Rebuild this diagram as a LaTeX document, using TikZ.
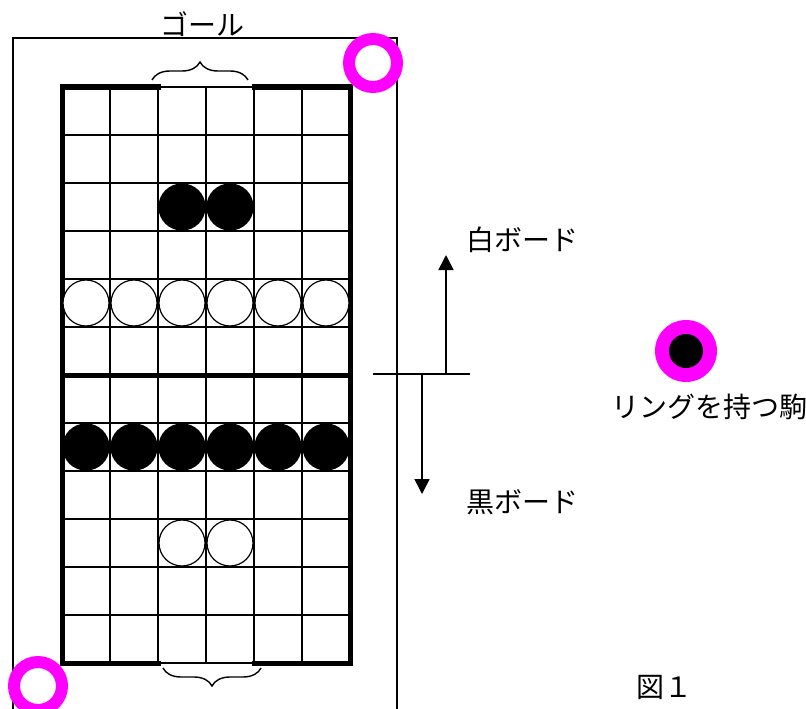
\documentclass[tikz,border=0pt]{standalone}
\usepackage{fontspec}
\newfontfamily\jp{Noto Sans CJK JP}
\usetikzlibrary{arrows.meta,decorations.pathreplacing}
\definecolor{ringpink}{RGB}{255,0,255}
\tikzset{
  thin grid/.style={line width=1.8pt},
  border/.style={line width=5pt, line cap=rect},
  frame/.style={line width=1.4pt},
  blackpiece/.style={circle, fill=black, draw=black, line width=1.2pt, minimum size=46pt, inner sep=0pt},
  whitepiece/.style={circle, fill=white, draw=black, line width=1.2pt, minimum size=46pt, inner sep=0pt},
  ring/.style={circle, draw=ringpink, line width=12pt, minimum size=48pt, inner sep=0pt},
  label/.style={font=\jp\fontsize{28}{32}\selectfont, inner sep=0pt},
  goalbrace/.style={decorate, decoration={brace, amplitude=18pt}, line width=1.4pt},
  move/.style={line width=1.6pt, -{Triangle[length=15pt,width=15pt]}},
}
\begin{document}
\begin{tikzpicture}[x=1pt,y=-1pt]
  \useasboundingbox (0,0) rectangle (806,709);
  % outer frame, open at the bottom edge
  \begin{scope}
    \clip (0,0) rectangle (806,709);
    \draw[frame] (13,720) -- (13,38) -- (397,38) -- (397,720);
  \end{scope}
  % board grid: 6 columns x 12 rows of 48pt squares
  \foreach \i in {1,...,5} \draw[thin grid] (62+48*\i,87) -- (62+48*\i,663);
  \foreach \j in {1,...,11} \draw[thin grid] (62,87+48*\j) -- (350,87+48*\j);
  \draw[thin grid] (158,87) -- (254,87);
  \draw[thin grid] (158,663) -- (254,663);
  % heavy edges, leaving the two goal squares open at each end
  \draw[border] (158,87) -- (62,87) -- (62,663) -- (158,663);
  \draw[border] (254,87) -- (350,87) -- (350,663) -- (254,663);
  \draw[border] (62,375) -- (350,375);
  % pieces
  \node[blackpiece] (b1) at (182,207) {};
  \node[blackpiece] (b2) at (230,207) {};
  \foreach \i in {0,...,5} {
    \node[whitepiece] (w\i) at (86+48*\i,303) {};
    \node[blackpiece] (k\i) at (86+48*\i,447) {};
  }
  \node[whitepiece] (w6) at (182,543) {};
  \node[whitepiece] (w7) at (230,543) {};
  % rings on the corners
  \node[ring] (ringA) at (373,63) {};
  \node[ring] (ringB) at (38,686) {};
  % goal braces and caption
  \coordinate (gtl) at (152,80);
  \coordinate (gtr) at (248,80);
  \coordinate (gbl) at (163,668);
  \coordinate (gbr) at (261,668);
  \draw[goalbrace] (gtl) -- (gtr);
  \draw[goalbrace] (gbr) -- (gbl);
  \node[label] (goal) at (202,24) {ゴール};
  % board boundary and move directions
  \coordinate (hl) at (373,374);
  \coordinate (hr) at (470,374);
  \coordinate (upfoot) at (446,374);
  \coordinate (uptip) at (446,255);
  \coordinate (dnfoot) at (422,374);
  \coordinate (dntip) at (422,494);
  \draw[line width=1.6pt] (hl) -- (hr);
  \draw[move] (upfoot) -- (uptip);
  \draw[move] (dnfoot) -- (dntip);
  \node[label, anchor=west] (white) at (466,240) {白ボード};
  \node[label, anchor=west] (black) at (466,502) {黒ボード};
  % ringed piece legend
  \node[circle, fill=ringpink, minimum size=62pt, inner sep=0pt] (legend) at (686,351) {};
  \node[circle, fill=black, minimum size=34pt, inner sep=0pt] (legendcore) at (legend) {};
  \node[label] (ringtext) at (709,407) {リングを持つ駒};
  \node[label] (fig) at (664,687) {図１};
\end{tikzpicture}
\end{document}
